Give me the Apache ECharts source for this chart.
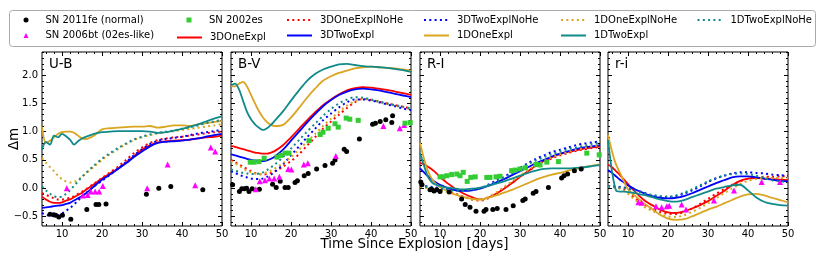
<!DOCTYPE html>
<html><head><meta charset="utf-8">
<script src="https://cdn.jsdelivr.net/npm/echarts@6/dist/echarts.min.js"></script>
<style>html,body{margin:0;padding:0;background:#fff}#c{width:830px;height:260px}</style>
</head><body><div id="c"></div><script>
// ---------------- data ----------------
const days = [5,6,7,8,9,10,11,12,13,14,15,16,18,20,22,24,26,28,30,32,34,36,38,40,42,44,46,48,50];
const panelNames = ['U-B','B-V','R-I','r-i'];

// U-B
const UB_3DOneExpl     = [-0.15,-0.2,-0.24,-0.26,-0.26,-0.25,-0.22,-0.2,-0.16,-0.12,-0.08,-0.03,0.07,0.17,0.26,0.35,0.45,0.57,0.68,0.76,0.81,0.83,0.84,0.85,0.86,0.88,0.9,0.91,0.93];
const UB_3DOneExplNoHe = [-0.09,-0.12,-0.15,-0.18,-0.2,-0.2,-0.19,-0.17,-0.14,-0.1,-0.06,-0.02,0.08,0.18,0.28,0.38,0.5,0.62,0.72,0.8,0.85,0.88,0.9,0.91,0.93,0.95,0.97,0.99,1.0];
const UB_3DTwoExpl     = [-0.35,-0.34,-0.33,-0.32,-0.31,-0.3,-0.28,-0.26,-0.22,-0.18,-0.14,-0.09,0.03,0.15,0.24,0.34,0.44,0.55,0.65,0.74,0.8,0.82,0.83,0.84,0.86,0.88,0.91,0.94,0.96];
const UB_3DTwoExplNoHe = [-0.44,-0.47,-0.49,-0.49,-0.48,-0.45,-0.4,-0.35,-0.29,-0.22,-0.15,-0.09,0.03,0.13,0.24,0.35,0.46,0.58,0.69,0.78,0.84,0.87,0.89,0.91,0.94,0.97,0.99,1.01,1.03];
const UB_1DOneExpl     = [1.09,0.8,0.84,0.9,0.96,0.99,1.0,1.0,0.98,0.93,0.88,0.87,0.93,1.04,1.06,1.07,1.08,1.09,1.09,1.1,1.07,1.09,1.11,1.11,1.1,1.13,1.15,1.17,1.19];
const UB_1DOneExplNoHe = [0.53,0.45,0.37,0.3,0.22,0.16,0.12,0.1,0.11,0.15,0.2,0.26,0.38,0.5,0.6,0.69,0.78,0.85,0.9,0.94,0.97,0.99,1.01,1.03,1.05,1.07,1.09,1.11,1.13];
const UB_1DTwoExpl     = [0.68,0.82,0.77,0.93,0.9,0.96,0.92,0.86,0.77,0.83,0.88,0.91,0.96,0.99,1.0,1.01,1.01,1.01,1.01,1.0,0.98,0.99,1.02,1.05,1.09,1.13,1.18,1.23,1.27];
const UB_1DTwoExplNoHe = [0.03,-0.04,-0.1,-0.14,-0.16,-0.15,-0.1,-0.04,0.04,0.12,0.2,0.27,0.4,0.52,0.62,0.71,0.79,0.86,0.91,0.95,0.98,1.0,1.02,1.05,1.08,1.11,1.15,1.18,1.21];

// B-V
const BV_3DOneExpl     = [0.75,0.73,0.71,0.69,0.67,0.65,0.63,0.62,0.61,0.61,0.63,0.66,0.76,0.9,1.05,1.2,1.34,1.47,1.57,1.66,1.73,1.77,1.79,1.78,1.76,1.74,1.71,1.68,1.65];
const BV_3DOneExplNoHe = [0.5,0.46,0.42,0.38,0.34,0.3,0.27,0.25,0.24,0.25,0.27,0.3,0.38,0.48,0.6,0.75,0.9,1.05,1.18,1.3,1.42,1.52,1.58,1.56,1.53,1.5,1.47,1.44,1.41];
const BV_3DTwoExpl     = [0.6,0.58,0.56,0.54,0.52,0.5,0.49,0.48,0.48,0.49,0.52,0.56,0.68,0.84,1.0,1.16,1.31,1.45,1.56,1.65,1.71,1.75,1.76,1.75,1.73,1.7,1.67,1.64,1.61];
const BV_3DTwoExplNoHe = [0.3,0.27,0.24,0.21,0.19,0.17,0.16,0.16,0.17,0.2,0.24,0.29,0.42,0.58,0.74,0.9,1.05,1.2,1.32,1.43,1.52,1.57,1.57,1.55,1.52,1.48,1.45,1.41,1.38];
const BV_1DOneExpl     = [1.8,1.8,1.85,1.88,1.8,1.65,1.5,1.36,1.25,1.17,1.12,1.1,1.12,1.25,1.42,1.6,1.76,1.9,1.98,2.04,2.08,2.12,2.14,2.15,2.14,2.13,2.12,2.1,2.08];
const BV_1DOneExplNoHe = [0.48,0.44,0.4,0.35,0.31,0.28,0.26,0.25,0.26,0.28,0.31,0.35,0.44,0.55,0.68,0.82,0.96,1.1,1.23,1.35,1.46,1.54,1.58,1.56,1.53,1.49,1.46,1.43,1.4];
const BV_1DTwoExpl     = [1.82,1.85,1.75,1.55,1.35,1.22,1.13,1.07,1.03,1.06,1.12,1.2,1.36,1.55,1.73,1.9,2.02,2.1,2.15,2.19,2.2,2.18,2.16,2.15,2.14,2.13,2.11,2.09,2.06];
const BV_1DTwoExplNoHe = [0.33,0.31,0.29,0.27,0.26,0.25,0.25,0.26,0.28,0.32,0.37,0.42,0.55,0.7,0.85,1.0,1.14,1.28,1.4,1.5,1.57,1.61,1.6,1.57,1.53,1.5,1.47,1.44,1.41];

// R-I
const RI_3DOneExpl     = [0.45,0.42,0.38,0.33,0.27,0.2,0.14,0.08,0.03,-0.02,-0.06,-0.1,-0.16,-0.2,-0.17,-0.1,-0.01,0.09,0.2,0.3,0.4,0.48,0.55,0.6,0.64,0.67,0.7,0.72,0.74];
const RI_3DOneExplNoHe = [0.03,0.02,0.01,0.0,-0.01,-0.02,-0.04,-0.06,-0.08,-0.1,-0.13,-0.15,-0.2,-0.22,-0.18,-0.1,0.0,0.1,0.2,0.3,0.39,0.46,0.53,0.58,0.62,0.66,0.69,0.71,0.73];
const RI_3DTwoExpl     = [0.35,0.28,0.21,0.15,0.1,0.06,0.03,0.0,-0.02,-0.04,-0.05,-0.05,-0.04,-0.01,0.04,0.1,0.16,0.23,0.3,0.37,0.44,0.5,0.56,0.61,0.65,0.69,0.72,0.74,0.76];
const RI_3DTwoExplNoHe = [0.05,0.04,0.03,0.02,0.01,0.0,-0.01,-0.02,-0.03,-0.04,-0.05,-0.05,-0.03,0.0,0.06,0.13,0.2,0.28,0.36,0.44,0.52,0.58,0.64,0.68,0.72,0.76,0.79,0.81,0.83];
const RI_1DOneExpl     = [0.8,0.52,0.3,0.16,0.07,0.02,-0.02,-0.06,-0.09,-0.12,-0.14,-0.16,-0.19,-0.2,-0.17,-0.13,-0.08,-0.03,0.03,0.09,0.15,0.2,0.24,0.27,0.31,0.34,0.37,0.4,0.42];
const RI_1DOneExplNoHe = [0.02,0.01,0.0,-0.01,-0.02,-0.03,-0.05,-0.07,-0.09,-0.11,-0.14,-0.16,-0.2,-0.21,-0.16,-0.08,0.02,0.12,0.22,0.32,0.41,0.48,0.55,0.6,0.64,0.68,0.71,0.74,0.76];
const RI_1DTwoExpl     = [0.62,0.4,0.2,0.1,0.06,0.04,0.02,0.01,0.0,-0.01,-0.02,-0.02,-0.01,0.01,0.04,0.08,0.12,0.17,0.22,0.27,0.31,0.34,0.35,0.35,0.35,0.36,0.37,0.39,0.41];
const RI_1DTwoExplNoHe = [0.04,0.03,0.02,0.01,0.0,-0.01,-0.02,-0.03,-0.04,-0.05,-0.05,-0.05,-0.03,0.0,0.05,0.11,0.18,0.26,0.34,0.42,0.49,0.55,0.6,0.65,0.69,0.72,0.75,0.78,0.8];

// r-i
const ri_3DOneExpl     = [0.42,0.37,0.3,0.23,0.15,0.07,-0.01,-0.08,-0.15,-0.21,-0.26,-0.3,-0.38,-0.43,-0.44,-0.41,-0.36,-0.3,-0.23,-0.14,-0.05,0.05,0.13,0.17,0.18,0.17,0.16,0.15,0.14];
const ri_3DOneExplNoHe = [0.04,0.03,0.02,0.0,-0.03,-0.07,-0.13,-0.19,-0.24,-0.29,-0.33,-0.36,-0.42,-0.45,-0.46,-0.42,-0.36,-0.28,-0.19,-0.1,-0.02,0.06,0.12,0.17,0.19,0.2,0.2,0.21,0.21];
const ri_3DTwoExpl     = [0.32,0.27,0.21,0.15,0.1,0.05,0.01,-0.03,-0.06,-0.09,-0.12,-0.14,-0.17,-0.18,-0.17,-0.14,-0.09,-0.03,0.03,0.09,0.14,0.19,0.21,0.21,0.19,0.17,0.15,0.13,0.12];
const ri_3DTwoExplNoHe = [0.04,0.03,0.03,0.02,0.01,0.0,-0.02,-0.04,-0.06,-0.08,-0.11,-0.13,-0.15,-0.16,-0.14,-0.1,-0.04,0.03,0.11,0.17,0.22,0.26,0.28,0.28,0.27,0.26,0.24,0.23,0.22];
const ri_1DOneExpl     = [0.94,0.65,0.42,0.27,0.12,-0.02,-0.09,-0.15,-0.21,-0.27,-0.32,-0.37,-0.47,-0.54,-0.56,-0.55,-0.5,-0.44,-0.38,-0.33,-0.27,-0.21,-0.15,-0.11,-0.1,-0.13,-0.17,-0.21,-0.25];
const ri_1DOneExplNoHe = [0.03,0.02,0.01,-0.01,-0.05,-0.1,-0.16,-0.22,-0.28,-0.33,-0.37,-0.4,-0.46,-0.5,-0.51,-0.48,-0.42,-0.35,-0.27,-0.18,-0.09,-0.01,0.07,0.13,0.16,0.18,0.18,0.18,0.18];
const ri_1DTwoExpl     = [0.85,0.3,-0.04,-0.06,-0.06,-0.07,-0.08,-0.09,-0.11,-0.12,-0.14,-0.16,-0.2,-0.23,-0.24,-0.21,-0.16,-0.11,-0.06,-0.01,0.02,0.05,0.06,-0.04,-0.16,-0.24,-0.28,-0.3,-0.31];
const ri_1DTwoExplNoHe = [0.03,0.02,0.02,0.01,0.0,-0.01,-0.03,-0.05,-0.07,-0.09,-0.11,-0.12,-0.14,-0.15,-0.13,-0.08,-0.02,0.05,0.12,0.18,0.22,0.25,0.26,0.25,0.22,0.18,0.14,0.12,0.1];

// observations
const UB_2011fe_days = [7.0,7.9,8.4,9.2,10.1,12.2,16.2,18.5,19.2,21.0,31.1,34.2,37.2,45.2];
const UB_2011fe      = [-0.46,-0.47,-0.48,-0.51,-0.48,-0.55,-0.38,-0.29,-0.29,-0.28,-0.11,0.0,0.03,-0.03];
const UB_2006bt_days = [11.2,15.2,16.4,17.2,18.3,19.3,20.2,31.3,36.4,43.3,47.2,48.3];
const UB_2006bt      = [0.0,-0.13,-0.12,-0.06,-0.06,-0.06,0.04,0.0,0.42,0.05,0.72,0.65];

const BV_2011fe_days = [5.4,7.1,7.7,8.3,8.9,9.5,10.3,12.1,15.4,16.3,17.3,18.5,19.3,21.0,21.6,23.3,24.3,26.4,28.5,30.4,31.0,33.3,33.9,37.1,40.4,41.1,42.3,43.7,45.4,45.2];
const BV_2011fe      = [0.06,-0.06,-0.01,-0.01,0.0,-0.06,-0.01,-0.02,0.07,0.01,0.12,0.01,0.01,0.1,0.13,0.22,0.26,0.34,0.4,0.44,0.5,0.69,0.65,0.87,1.13,1.15,1.18,1.21,1.28,1.16];
const BV_2006bt_days = [11.2,12.2,13.5,14.6,15.8,17.1,19.3,20.1,23.2,24.2,31.2,43.1,47.2,48.3];
const BV_2006bt      = [-0.02,0.12,0.14,0.17,0.17,0.2,0.34,0.33,0.42,0.44,0.57,1.1,1.06,1.12];
const BV_2002es_days = [9.8,10.8,12.0,13.3,16.5,17.5,18.5,19.5,24.5,27.3,28.0,29.3,31.0,31.8,33.8,34.7,36.8,48.5,49.8];
const BV_2002es      = [0.46,0.46,0.47,0.53,0.55,0.58,0.62,0.62,0.84,0.95,0.99,1.06,1.14,1.08,1.24,1.22,1.2,1.15,1.16];

const RI_2011fe_days = [5.2,5.5,7.5,7.9,8.5,9.2,10.0,12.3,15.4,16.3,17.5,19.0,21.0,21.5,23.2,24.3,26.5,28.3,30.7,31.3,33.3,34.0,37.1,40.4,41.0,41.9,43.6,45.3];
const RI_2011fe      = [0.11,0.06,-0.03,-0.02,-0.05,-0.03,-0.06,-0.07,-0.19,-0.29,-0.34,-0.41,-0.41,-0.38,-0.38,-0.36,-0.38,-0.31,-0.22,-0.19,-0.09,-0.06,0.01,0.18,0.22,0.25,0.31,0.34];
const RI_2002es_days = [10.0,10.8,11.7,12.9,14.2,15.0,15.8,16.8,17.7,18.8,21.7,22.5,24.0,25.0,27.9,28.8,30.0,31.3,34.0,35.0,36.7,39.6,46.7,49.8];
const RI_2002es      = [0.2,0.2,0.22,0.24,0.25,0.22,0.28,0.12,0.19,0.2,0.19,0.19,0.2,0.21,0.31,0.32,0.34,0.36,0.42,0.41,0.46,0.47,0.62,0.59];

const ri_2006bt_days = [12.6,13.4,17.0,18.4,19.7,20.3,23.4,24.5,31.5,36.5,43.4,48.0];
const ri_2006bt      = [-0.25,-0.26,-0.32,-0.34,-0.32,-0.31,-0.29,-0.38,-0.22,-0.04,0.11,0.11];

// ticks
const xMajor = [10,20,30,40,50];
const xMinor = [6,8,12,14,16,18,22,24,26,28,32,34,36,38,42,44,46,48];
const yMajor = [-0.5,0,0.5,1,1.5,2];
const yMinor = [-0.6,-0.4,-0.3,-0.2,-0.1,0.1,0.2,0.3,0.4,0.6,0.7,0.8,0.9,1.1,1.2,1.3,1.4,1.6,1.7,1.8,1.9,2.1,2.2,2.3,2.4];

// ---------------- styles ----------------
const FONT = 'DejaVu Sans';
const RED = '#ff0000', BLUE = '#0000ff', GOLD = '#daa520', TEAL = '#118a8a';
const models = [
  {name:'3DOneExpl', color:RED, dot:false, data:[UB_3DOneExpl,BV_3DOneExpl,RI_3DOneExpl,ri_3DOneExpl]},
  {name:'3DOneExplNoHe', color:RED, dot:true, data:[UB_3DOneExplNoHe,BV_3DOneExplNoHe,RI_3DOneExplNoHe,ri_3DOneExplNoHe]},
  {name:'3DTwoExpl', color:BLUE, dot:false, data:[UB_3DTwoExpl,BV_3DTwoExpl,RI_3DTwoExpl,ri_3DTwoExpl]},
  {name:'3DTwoExplNoHe', color:BLUE, dot:true, data:[UB_3DTwoExplNoHe,BV_3DTwoExplNoHe,RI_3DTwoExplNoHe,ri_3DTwoExplNoHe]},
  {name:'1DOneExpl', color:GOLD, dot:false, data:[UB_1DOneExpl,BV_1DOneExpl,RI_1DOneExpl,ri_1DOneExpl]},
  {name:'1DOneExplNoHe', color:GOLD, dot:true, data:[UB_1DOneExplNoHe,BV_1DOneExplNoHe,RI_1DOneExplNoHe,ri_1DOneExplNoHe]},
  {name:'1DTwoExpl', color:TEAL, dot:false, data:[UB_1DTwoExpl,BV_1DTwoExpl,RI_1DTwoExpl,ri_1DTwoExpl]},
  {name:'1DTwoExplNoHe', color:TEAL, dot:true, data:[UB_1DTwoExplNoHe,BV_1DTwoExplNoHe,RI_1DTwoExplNoHe,ri_1DTwoExplNoHe]}
];
const obs = [
  {name:'SN 2011fe (normal)', color:'#000', symbol:'circle', size:5,
   data:[[UB_2011fe_days,UB_2011fe],[BV_2011fe_days,BV_2011fe],[RI_2011fe_days,RI_2011fe],null]},
  {name:'SN 2006bt (02es-like)', color:'#ff00ff', symbol:'triangle', size:6,
   data:[[UB_2006bt_days,UB_2006bt],[BV_2006bt_days,BV_2006bt],null,[ri_2006bt_days,ri_2006bt]]},
  {name:'SN 2002es', color:'#33cc33', symbol:'rect', size:5,
   data:[null,[BV_2002es_days,BV_2002es],[RI_2002es_days,RI_2002es],null]}
];

const gridLeft = [42, 231, 420, 608];
const GT = 52, GW = 180, GH = 174;
const YMIN = -0.67, YMAX = 2.41;

const grids = [], xAxes = [], yAxes = [], series = [];
const tickLine = {color:'#000', width:1};
const noLine = {show:false, onZero:false};
const fmtY = v => (v < 0 ? '\u2212' : '') + Math.abs(v).toFixed(1);

for (let p = 0; p < 4; p++) {
  grids.push({left:gridLeft[p], top:GT, width:GW, height:GH, show:true, borderColor:'#000', borderWidth:1, backgroundColor:'transparent', containLabel:false, outerBoundsMode:'none'});
  xAxes.push({type:'value', gridIndex:p, min:5, max:50, position:'bottom',
    axisLine:noLine, splitLine:{show:false},
    axisTick:{show:true, inside:true, length:4, customValues:xMajor, lineStyle:tickLine},
    axisLabel:{show:true, customValues:xMajor, fontSize:10, fontFamily:FONT, color:'#000', margin:3}});
  yAxes.push({type:'value', gridIndex:p, min:YMIN, max:YMAX, position:'left',
    axisLine:noLine, splitLine:{show:false},
    axisTick:{show:true, inside:true, length:4, customValues:yMajor, lineStyle:tickLine},
    axisLabel:{show:p===0, customValues:yMajor, fontSize:10, fontFamily:FONT, color:'#000', margin:4, formatter:fmtY}});
}
for (let p = 0; p < 4; p++) {
  [['bottom',xMinor,2],['top',xMajor,4],['top',xMinor,2]].forEach(([pos,vals,len]) => {
    xAxes.push({type:'value', gridIndex:p, min:5, max:50, position:pos,
      axisLine:noLine, splitLine:{show:false}, axisLabel:{show:false},
      axisTick:{show:true, inside:true, length:len, customValues:vals, lineStyle:tickLine}});
  });
  [['left',yMinor,2],['right',yMajor,4],['right',yMinor,2]].forEach(([pos,vals,len]) => {
    yAxes.push({type:'value', gridIndex:p, min:YMIN, max:YMAX, position:pos,
      axisLine:noLine, splitLine:{show:false}, axisLabel:{show:false},
      axisTick:{show:true, inside:true, length:len, customValues:vals, lineStyle:tickLine}});
  });
}

for (let p = 0; p < 4; p++) {
  models.forEach(m => {
    series.push({type:'line', name:m.name, xAxisIndex:p, yAxisIndex:p,
      data: days.map((d,i) => [d, m.data[p][i]]),
      symbol:'none', smooth:0.3, z:2, silent:true,
      lineStyle:{color:m.color, width:m.dot?2:1.8, type:m.dot?[2,3.3]:'solid', cap:'butt'},
      itemStyle:{color:m.color}});
  });
  obs.forEach(o => {
    const d = o.data[p];
    series.push({type:'scatter', name:o.name, xAxisIndex:p, yAxisIndex:p,
      data: d ? d[0].map((x,i) => [x, d[1][i]]) : [],
      symbol:o.symbol, symbolSize:o.size, z:3, silent:true,
      itemStyle:{color:o.color, opacity:1}});
  });
}

// legend: matplotlib-like column-major layout, rows at y=20 and y=37
const ROW1 = 15, ROW2 = 32.5;
const legText = {fontSize:10, fontFamily:FONT, color:'#000'};
const legends = [
  {left:23.5, top:ROW1, itemWidth:5, itemHeight:5, itemGap:5.5, data:['SN 2011fe (normal)','SN 2006bt (02es-like)'],
   itemStyle:{opacity:1}, textStyle:Object.assign({padding:[0,0,0,12]}, legText)},
  {left:186.5, top:ROW1, itemWidth:5, itemHeight:5, data:['SN 2002es'],
   itemStyle:{opacity:1}, textStyle:Object.assign({padding:[0,0,0,12.5]}, legText)},
  {left:176, top:ROW2, itemWidth:25, itemHeight:5, data:['3DOneExpl'], itemStyle:{opacity:0}, textStyle:Object.assign({padding:[0,0,0,3]}, legText)},
  {left:286, top:ROW1, itemWidth:25, itemHeight:5, itemGap:5.5, data:['3DOneExplNoHe','3DTwoExpl'], itemStyle:{opacity:0}, textStyle:Object.assign({padding:[0,0,0,3]}, legText)},
  {left:423, top:ROW1, itemWidth:25, itemHeight:5, itemGap:5.5, data:['3DTwoExplNoHe','1DOneExpl'], itemStyle:{opacity:0}, textStyle:Object.assign({padding:[0,0,0,3]}, legText)},
  {left:560, top:ROW1, itemWidth:25, itemHeight:5, itemGap:5.5, data:['1DOneExplNoHe','1DTwoExpl'], itemStyle:{opacity:0}, textStyle:Object.assign({padding:[0,0,0,3]}, legText)},
  {left:696.5, top:ROW1, itemWidth:25, itemHeight:5, data:['1DTwoExplNoHe'], itemStyle:{opacity:0}, textStyle:Object.assign({padding:[0,0,0,3]}, legText)}
].map(l => Object.assign({orient:'vertical', padding:0, selectedMode:false}, l));

const graphic = [
  {type:'rect', shape:{x:9.5, y:10.5, width:806, height:36, r:3}, style:{fill:'#fff', stroke:'#aaaaaa', lineWidth:1}, z:-10}
];
for (let p = 0; p < 4; p++) {
  graphic.push({type:'text', x:gridLeft[p] + 7, y:64.5,
    style:{text:panelNames[p], font:'13.4px ' + FONT, fill:'#000', verticalAlign:'middle'}, z:20});
}
graphic.push({type:'text', x:414.5, y:245, style:{text:'Time Since Explosion [days]', font:'13.4px ' + FONT, fill:'#000', align:'center', verticalAlign:'middle'}});
graphic.push({type:'text', x:15, y:139, rotation:Math.PI/2, style:{text:'\u0394m', font:'13.4px ' + FONT, fill:'#000', align:'center', verticalAlign:'middle'}});

const chart = echarts.init(document.getElementById('c'), null, {renderer:'canvas'});
chart.setOption({
  animation:false, backgroundColor:'#fff',
  textStyle:{fontFamily:FONT},
  grid:grids, xAxis:xAxes, yAxis:yAxes, series:series,
  legend:legends, graphic:graphic
});
</script></body></html>
